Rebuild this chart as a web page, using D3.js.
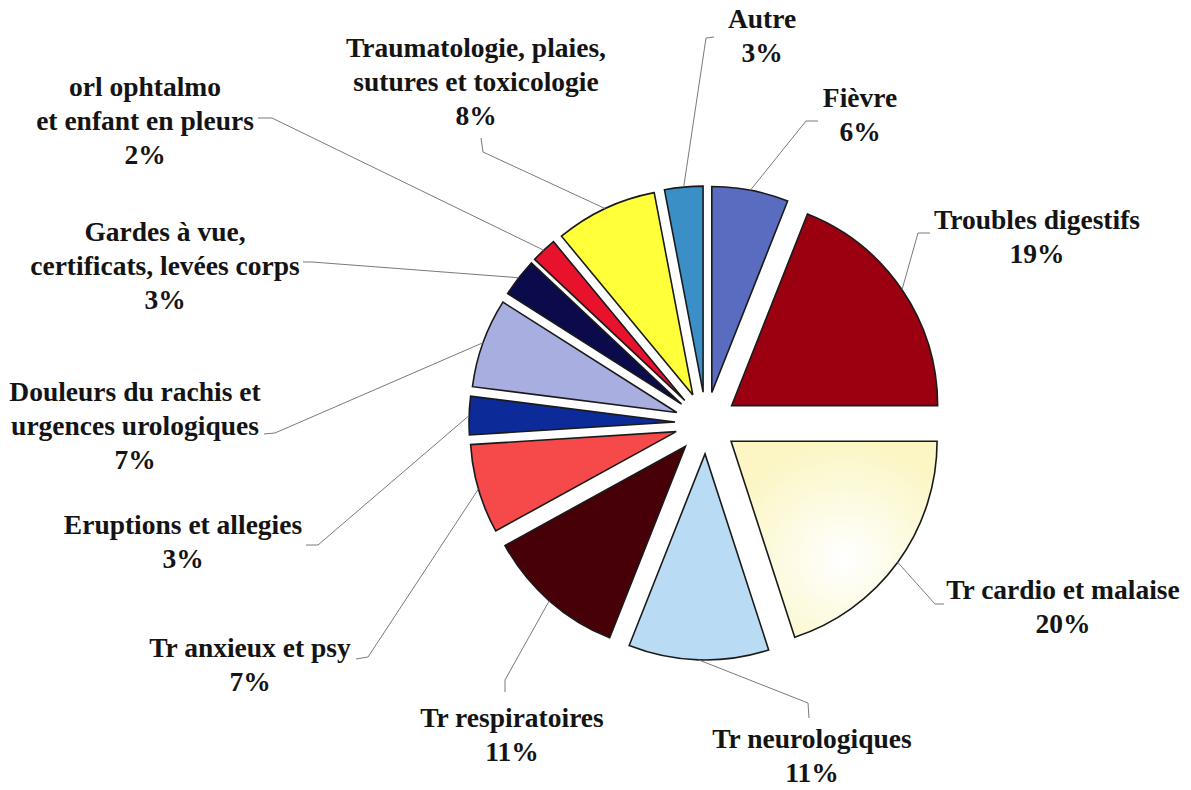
<!DOCTYPE html>
<html>
<head>
<meta charset="utf-8">
<script src="https://cdn.jsdelivr.net/npm/d3@7/dist/d3.min.js"></script>
<style>
  html, body { margin: 0; padding: 0; background: #fff; }
  .label { font-family: "Liberation Serif", "Times New Roman", serif; font-weight: bold; font-size: 27.5px; fill: #141414; }
  .leader { fill: none; stroke: #7a7a7a; stroke-width: 1; }
  .slice { stroke: #1a1a1a; stroke-width: 1.6; stroke-linejoin: miter; }
</style>
</head>
<body>
<div id="chart"></div>
<script>
// categories clockwise from 12 o'clock
const categories = [
  'Fièvre',
  'Troubles digestifs',
  'Tr cardio et malaise',
  'Tr neurologiques',
  'Tr respiratoires',
  'Tr anxieux et psy',
  'Eruptions et allegies',
  'Douleurs du rachis et\nurgences urologiques',
  'Gardes à vue,\ncertificats, levées corps',
  'orl ophtalmo\net enfant en pleurs',
  'Traumatologie, plaies,\nsutures et toxicologie',
  'Autre'
];
const values = [6, 19, 20, 11, 11, 7, 3, 7, 3, 2, 8, 3];
const colors = [
  '#5a6cc0', '#9a0010', 'url(#creamFill)', '#b9dcf4', '#480008', '#f64a4a',
  '#0c2a98', '#a9aee0', '#0b0b4c', '#e8122c', '#ffff3a', '#3a8fc6'
];

// label layout: x = text centre, y = first baseline, leader = elbow points
const labelLayout = [
  { x: 860, y: 107, leader: [[806, 121], [818, 121]] },
  { x: 1037, y: 229, leader: [[918, 233], [930, 233]] },
  { x: 1063, y: 599, leader: [[935, 604], [944, 604]] },
  { x: 812, y: 748, leader: [[808, 703], [809, 718]] },
  { x: 512, y: 727, leader: [[505, 680], [505, 692]] },
  { x: 250, y: 657, leader: [[368, 657], [356, 659]] },
  { x: 183, y: 534, leader: [[318, 545], [306, 545]] },
  { x: 135, y: 401, leader: [[275, 433], [264, 434]] },
  { x: 165, y: 241, leader: [[312, 262], [303, 262]] },
  { x: 145, y: 96, leader: [[272, 118], [258, 118]] },
  { x: 476, y: 57, leader: [[483, 152], [481, 138]] },
  { x: 762, y: 28, leader: [[706, 38], [714, 37]] }
];

const width = 1191, height = 790;
const cx = 706, cy = 423, radius = 206, explode = 31, lineHeight = 34;

const svg = d3.select('#chart').append('svg')
  .attr('width', width)
  .attr('height', height);

const defs = svg.append('defs');
const grad = defs.append('radialGradient')
  .attr('id', 'creamFill')
  .attr('cx', '55%').attr('cy', '60%').attr('r', '60%');
grad.append('stop').attr('offset', '0%').attr('stop-color', '#ffffff');
grad.append('stop').attr('offset', '100%').attr('stop-color', '#fbf6c4');

const total = d3.sum(values);
const pie = d3.pie().sort(null).value(d => d);
const arcs = pie(values);
const arc = d3.arc().innerRadius(0).outerRadius(radius);

const offsetOf = d => {
  const a = (d.startAngle + d.endAngle) / 2;
  return [explode * Math.sin(a), -explode * Math.cos(a)];
};

const g = svg.append('g').attr('transform', `translate(${cx},${cy})`);

// slices
g.selectAll('path.slice')
  .data(arcs)
  .enter()
  .append('path')
  .attr('class', 'slice')
  .attr('d', arc)
  .attr('fill', (d, i) => colors[i])
  .attr('transform', d => `translate(${offsetOf(d)[0]},${offsetOf(d)[1]})`);

// leader lines
const line = d3.line();
svg.selectAll('path.leader')
  .data(arcs)
  .enter()
  .append('path')
  .attr('class', 'leader')
  .attr('d', (d, i) => {
    const a = (d.startAngle + d.endAngle) / 2;
    const o = offsetOf(d);
    const p = [cx + o[0] + radius * Math.sin(a), cy + o[1] - radius * Math.cos(a)];
    return line([p].concat(labelLayout[i].leader));
  });

// labels
const labels = svg.selectAll('text.label')
  .data(arcs)
  .enter()
  .append('text')
  .attr('class', 'label')
  .attr('text-anchor', 'middle')
  .attr('x', (d, i) => labelLayout[i].x)
  .attr('y', (d, i) => labelLayout[i].y);

labels.each(function (d, i) {
  const lines = categories[i].split('\n');
  lines.push(Math.round(values[i] / total * 100) + '%');
  d3.select(this).selectAll('tspan')
    .data(lines)
    .enter()
    .append('tspan')
    .attr('x', labelLayout[i].x)
    .attr('dy', (t, j) => j === 0 ? 0 : lineHeight)
    .text(t => t);
});
</script>
</body>
</html>
